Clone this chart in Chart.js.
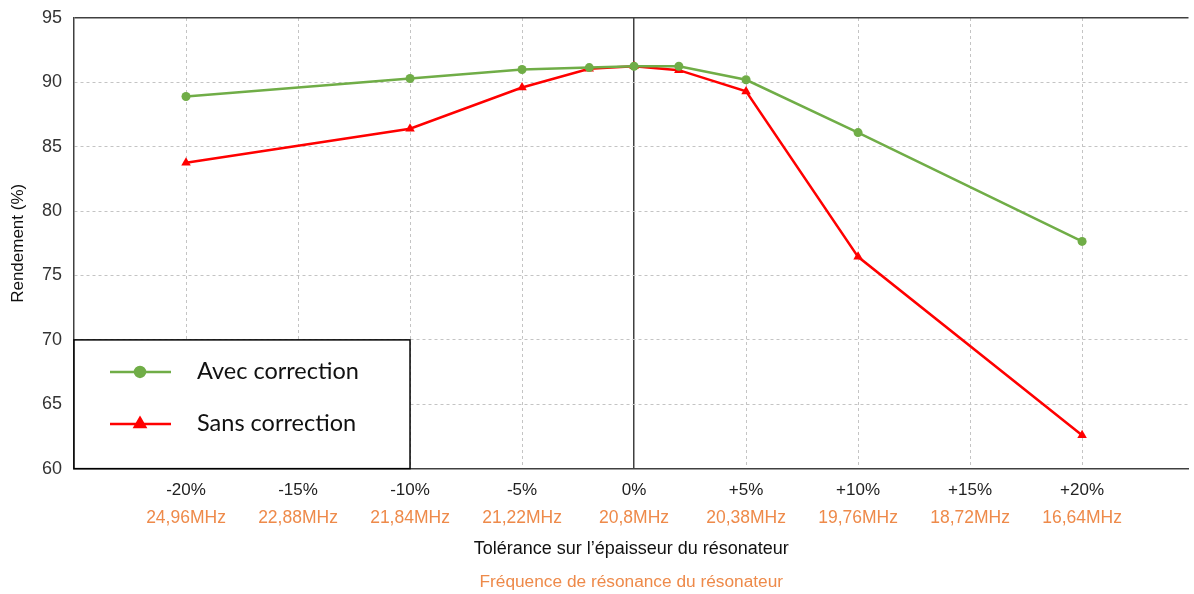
<!DOCTYPE html>
<html lang="fr">
<head>
<meta charset="UTF-8">
<title>Rendement vs tolérance</title>
<script src="https://cdn.jsdelivr.net/npm/chart.js"></script>
<style>
  html, body { margin: 0; padding: 0; background: #fff; overflow: hidden; }
  #wrap { width: 1194px; height: 594px; position: relative; }
</style>
</head>
<body>
<div id="wrap"><canvas id="chart"></canvas></div>
<script>
// tolérance (%) des points mesurés
const tolerance = [-20, -10, -5, -2, 0, 2, 5, 10, 20];
const avecCorrection = [88.9, 90.3, 91.0, 91.15, 91.25, 91.25, 90.2, 86.1, 77.65];
const sansCorrection = [83.75, 86.4, 89.6, 91.05, 91.25, 90.95, 89.3, 76.45, 62.6];

// graduations de l'axe x
const tickValues = [-20, -15, -10, -5, 0, 5, 10, 15, 20];
const tickLabels = ['-20%', '-15%', '-10%', '-5%', '0%', '+5%', '+10%', '+15%', '+20%'];
const freqLabels = ['24,96MHz', '22,88MHz', '21,84MHz', '21,22MHz', '20,8MHz', '20,38MHz', '19,76MHz', '18,72MHz', '16,64MHz'];

const GREEN = '#70AD47';
const RED = '#FF0000';
const ORANGE = '#EE8A4A';
const FRAME = '#404040';
const GRID = '#c4c4c4';

function toPoints(xs, ys) {
  return xs.map((x, i) => ({ x: x, y: ys[i] }));
}

function setTicks(scale) {
  scale.ticks = tickValues.map(v => ({ value: v }));
}

// pas de marge auto sur les cotés
function noSidePadding(scale) {
  scale.paddingLeft = 0;
  scale.paddingRight = 0;
}

// legende encadrée en bas à gauche
const boxLegend = {
  id: 'boxLegend',
  afterDraw(chart) {
    const { ctx, chartArea, scales } = chart;
    const left = chartArea.left;
    const right = scales.x.getPixelForValue(-10);
    const top = scales.y.getPixelForValue(70);
    const bottom = chartArea.bottom;
    ctx.save();
    ctx.fillStyle = '#fff';
    ctx.fillRect(left, top, right - left, bottom - top);
    ctx.strokeStyle = '#000';
    ctx.lineWidth = 1.5;
    ctx.strokeRect(left, top, right - left, bottom - top);

    const rows = [top + 32, top + 84];
    chart.data.datasets.forEach((ds, i) => {
      const y = rows[i];
      ctx.strokeStyle = ds.borderColor;
      ctx.lineWidth = 2.5;
      ctx.beginPath();
      ctx.moveTo(left + 36, y);
      ctx.lineTo(left + 97, y);
      ctx.stroke();
      Chart.helpers.drawPoint(ctx, {
        pointStyle: ds.pointStyle,
        radius: ds.pointRadius + 0.5,
        borderWidth: 1
      }, left + 66, y);
      ctx.fillStyle = ds.borderColor;
      ctx.fill();
      ctx.fillStyle = '#111';
      ctx.font = '23.5px Lato';
      ctx.textBaseline = 'middle';
      ctx.textAlign = 'left';
      ctx.fillText(ds.label, left + 123, y);
    });
    ctx.restore();
  }
};

new Chart(document.getElementById('chart'), {
  type: 'line',
  data: {
    datasets: [
      {
        label: 'Avec correction',
        data: toPoints(tolerance, avecCorrection),
        borderColor: GREEN,
        backgroundColor: GREEN,
        borderWidth: 2.5,
        pointStyle: 'circle',
        pointRadius: 4.5,
        pointBorderWidth: 0,
        tension: 0
      },
      {
        label: 'Sans correction',
        data: toPoints(tolerance, sansCorrection),
        borderColor: RED,
        backgroundColor: RED,
        borderWidth: 2.5,
        pointStyle: 'triangle',
        pointRadius: 5.5,
        pointBorderWidth: 0,
        tension: 0
      }
    ]
  },
  options: {
    responsive: true,
    maintainAspectRatio: false,
    animation: false,
    layout: { padding: { top: 18, left: 8, right: 0, bottom: 1 } },
    plugins: {
      legend: { display: false },
      tooltip: { enabled: false }
    },
    scales: {
      x: {
        type: 'linear',
        min: -25,
        max: 24.75,
        weight: 0,
        afterBuildTicks: setTicks,
        afterFit: s => { noSidePadding(s); s.height = 31.4; },
        ticks: {
          padding: 11,
          color: '#222',
          font: { family: 'Liberation Sans', size: 17 },
          maxRotation: 0,
          callback: v => tickLabels[tickValues.indexOf(v)]
        },
        grid: {
          drawTicks: false,
          color: c => (c.tick && c.tick.value === 0) ? FRAME : GRID,
          lineWidth: c => (c.tick && c.tick.value === 0) ? 1.5 : 1
        },
        border: {
          color: FRAME,
          width: 1.5,
          dash: c => (c.tick && c.tick.value === 0) ? [] : [3, 3]
        }
      },
      x2: {
        type: 'linear',
        position: 'bottom',
        min: -25,
        max: 24.75,
        weight: 1,
        afterBuildTicks: setTicks,
        afterFit: s => { noSidePadding(s); s.height = 60.2; },
        ticks: {
          padding: 7.4,
          color: ORANGE,
          font: { family: 'Liberation Sans', size: 17.5 },
          maxRotation: 0,
          callback: v => freqLabels[tickValues.indexOf(v)]
        },
        grid: { display: false, drawTicks: false },
        border: { display: false },
        title: {
          display: true,
          text: 'Tolérance sur l\u2019épaisseur du résonateur',
          color: '#111',
          font: { family: 'Liberation Sans', size: 18 },
          padding: { top: 0, bottom: 0 }
        }
      },
      x3: {
        type: 'linear',
        position: 'bottom',
        min: -25,
        max: 24.75,
        weight: 2,
        afterFit: noSidePadding,
        ticks: { display: false },
        grid: { display: false, drawTicks: false },
        border: { display: false },
        title: {
          display: true,
          text: 'Fréquence de résonance du résonateur',
          color: ORANGE,
          font: { family: 'Liberation Sans', size: 17.3 },
          padding: { top: 12, bottom: 0 }
        }
      },
      y: {
        min: 60,
        max: 95,
        afterFit: s => { s.paddingTop = 0; s.paddingBottom = 0; s.width = 66; },
        ticks: {
          stepSize: 5,
          padding: 12,
          color: '#333',
          font: { family: 'Liberation Sans', size: 18 }
        },
        grid: {
          drawTicks: false,
          color: c => (c.tick && c.tick.value === 95) ? FRAME : GRID,
          lineWidth: c => (c.tick && c.tick.value === 95) ? 1.5 : 1
        },
        border: {
          color: FRAME,
          width: 1.5,
          dash: c => (c.tick && c.tick.value === 95) ? [] : [3, 3]
        },
        title: {
          display: true,
          text: 'Rendement (%)',
          color: '#111',
          font: { family: 'Liberation Sans', size: 17 },
          padding: { top: 0, bottom: 0 }
        }
      }
    }
  },
  plugins: [boxLegend]
});
</script>
</body>
</html>
